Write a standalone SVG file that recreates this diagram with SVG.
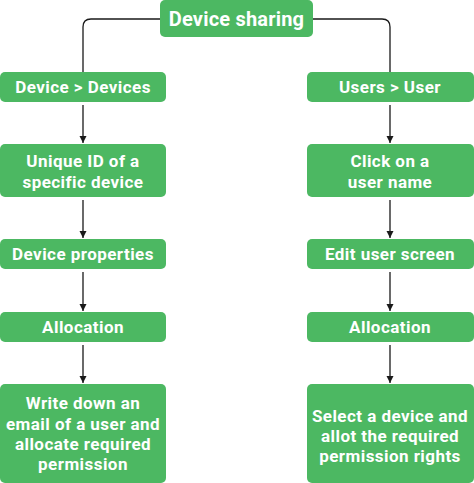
<svg xmlns="http://www.w3.org/2000/svg" width="474" height="483" viewBox="0 0 474 483">
<defs>
<marker id="ah" viewBox="0 0 10 10" refX="10" refY="5" markerWidth="7" markerHeight="9" markerUnits="userSpaceOnUse" orient="auto">
<path d="M0,0 L10,5 L0,10 Z" fill="#1a1a1a"/>
</marker>
<style>
.box{fill:#4cb862;}
.t{font-family:Roboto,"Liberation Sans",sans-serif;font-weight:700;font-size:17px;letter-spacing:0.45px;fill:#ffffff;text-anchor:middle;}
.title{font-size:20px;letter-spacing:0.2px;}
.c{fill:none;stroke:#1a1a1a;stroke-width:1.3;}
</style>
</defs>
<rect width="474" height="483" fill="#ffffff"/>
<g id="connectors">
<path class="c" d="M160,19 H91 Q83,19 83,27 V72"/>
<path class="c" d="M313,19 H382 Q390,19 390,27 V72"/>
<path class="c" d="M83,105 V143" marker-end="url(#ah)"/>
<path class="c" d="M83,200 V238" marker-end="url(#ah)"/>
<path class="c" d="M83,272 V311" marker-end="url(#ah)"/>
<path class="c" d="M83,345 V383" marker-end="url(#ah)"/>
<path class="c" d="M390,105 V143" marker-end="url(#ah)"/>
<path class="c" d="M390,200 V238" marker-end="url(#ah)"/>
<path class="c" d="M390,272 V311" marker-end="url(#ah)"/>
<path class="c" d="M390,345 V383" marker-end="url(#ah)"/>
</g>
<g id="n-root"><rect class="box" x="160" y="0" width="153" height="37" rx="5"/><text class="t title" x="236.5" y="26">Device sharing</text></g>
<g id="n-l1"><rect class="box" x="0" y="72" width="166" height="30" rx="5"/><text class="t" x="83" y="93">Device &gt; Devices</text></g>
<g id="n-l2"><rect class="box" x="0" y="144" width="166" height="53" rx="5"/><text class="t" x="83" y="167">Unique ID of a</text><text class="t" x="83" y="188">specific device</text></g>
<g id="n-l3"><rect class="box" x="0" y="239" width="166" height="30" rx="5"/><text class="t" x="83" y="259.5">Device properties</text></g>
<g id="n-l4"><rect class="box" x="0" y="312" width="166" height="30" rx="5"/><text class="t" x="83" y="332.5">Allocation</text></g>
<g id="n-l5"><rect class="box" x="0" y="384" width="166" height="99" rx="5"/><text class="t" x="83" y="409">Write down an</text><text class="t" x="83" y="429.5">email of a user and</text><text class="t" x="83" y="450">allocate required</text><text class="t" x="83" y="470">permission</text></g>
<g id="n-r1"><rect class="box" x="307" y="72" width="167" height="30" rx="5"/><text class="t" x="390" y="93">Users &gt; User</text></g>
<g id="n-r2"><rect class="box" x="307" y="144" width="167" height="53" rx="5"/><text class="t" x="390" y="167">Click on a</text><text class="t" x="390" y="188">user name</text></g>
<g id="n-r3"><rect class="box" x="307" y="239" width="167" height="30" rx="5"/><text class="t" x="390" y="259.5">Edit user screen</text></g>
<g id="n-r4"><rect class="box" x="307" y="312" width="167" height="30" rx="5"/><text class="t" x="390" y="332.5">Allocation</text></g>
<g id="n-r5"><rect class="box" x="307" y="384" width="167" height="99" rx="5"/><text class="t" x="390" y="421.5">Select a device and</text><text class="t" x="390" y="441.5">allot the required</text><text class="t" x="390" y="461.5">permission rights</text></g>
</svg>
